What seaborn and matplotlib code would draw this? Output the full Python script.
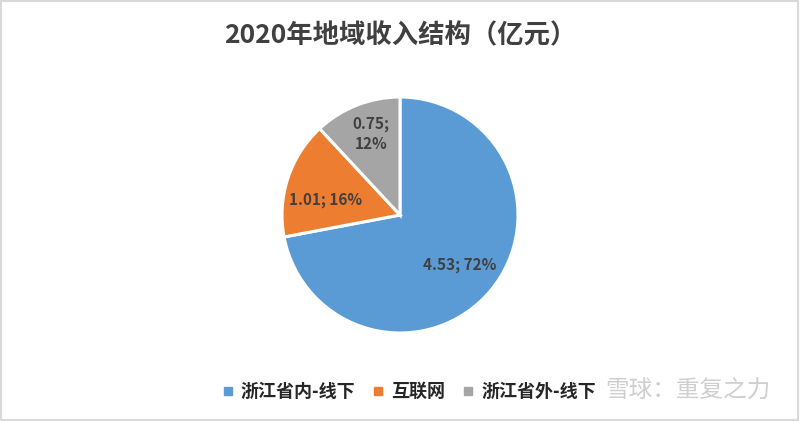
import matplotlib
matplotlib.use("Agg")
import matplotlib.pyplot as plt
import seaborn as sns
from matplotlib.patches import Rectangle
from matplotlib.lines import Line2D

categories = ["浙江省内-线下", "互联网", "浙江省外-线下"]
values = [4.53, 1.01, 0.75]
colors = ["#5B9BD5", "#ED7D31", "#A5A5A5"]
title = "2020年地域收入结构（亿元）"

sns.set_theme(style="white")
plt.rcParams['font.family'] = ['Noto Sans CJK SC', 'DejaVu Sans']

fig = plt.figure(figsize=(8.0, 4.21), dpi=100)
fig.patch.set_facecolor("white")
ax = fig.add_axes([0.3525, 0.209, 0.295, 0.5606])

vals_iter = iter(values)

def fmt(pct):
    v = next(vals_iter)
    return f"{v:.2f}; {pct:.0f}%"

wedges, texts, autotexts = ax.pie(
    values, colors=colors, startangle=90, counterclock=False,
    autopct=fmt, pctdistance=0.66, radius=1.0,
    wedgeprops=dict(edgecolor="white", linewidth=2.2),
    textprops=dict(color="#404040", fontsize=11, fontweight="bold"),
)
t = autotexts[2]
t.set_text(t.get_text().replace("; ", ";\n"))
t.set_linespacing(1.3)
x, y = t.get_position()
t.set_position((x * 1.03, y * 1.12))
x, y = autotexts[1].get_position()
autotexts[1].set_position((x * 1.0, y * 0.6))
ax.set_xlim(-1, 1)
ax.set_ylim(-1, 1)
ax.set_aspect("equal")

fig.text(0.5, 0.915, title, ha="center", va="center", fontsize=19,
         color="#404040", fontweight="bold")

handles = [Line2D([0], [0], marker="s", linestyle="none", markersize=6,
                  markerfacecolor=c, markeredgecolor=c) for c in colors]
leg = fig.legend(handles, categories, loc="center", bbox_to_anchor=(0.51, 0.07),
                 ncol=3, frameon=False, fontsize=13, handletextpad=0.3,
                 columnspacing=0.9, handlelength=0.8)
for txt in leg.get_texts():
    txt.set_color("#262626")
    txt.set_fontweight("bold")

fig.text(0.86, 0.07, "雪球：重复之力", ha="center", va="center", fontsize=17,
         color="#b0b0b0", alpha=0.6)

fig.patches.append(Rectangle((0.001, 0.002), 0.997, 0.996, transform=fig.transFigure,
                             fill=False, edgecolor="#d9d9d9", linewidth=1.5))

fig.savefig("out.png", dpi=100, facecolor="white")
